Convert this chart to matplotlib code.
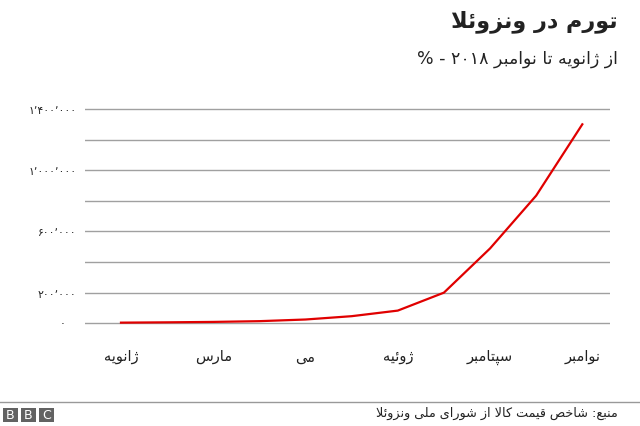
import re
import matplotlib
matplotlib.use("Agg")
import matplotlib.pyplot as plt
from matplotlib.patches import Rectangle
from matplotlib.transforms import blended_transform_factory

# ---------------- data ----------------
months = ["ژانویه", "فوریه", "مارس", "آوریل", "می", "ژوئن", "ژوئیه", "اوت", "سپتامبر", "اکتبر", "نوامبر"]
inflation = [4068, 6147, 8878, 13779, 24571, 46305, 82766, 200005, 488865, 833997, 1299724]
xtick_idx = [0, 2, 4, 6, 8, 10]
ytick_major = [0, 200000, 600000, 1000000, 1400000]
ytick_labels = ["۰", "۲۰۰٬۰۰۰", "۶۰۰٬۰۰۰", "۱٬۰۰۰٬۰۰۰", "۱٬۴۰۰٬۰۰۰"]
ytick_minor = [400000, 800000, 1200000]
title = "تورم در ونزوئلا"
subtitle = "از ژانویه تا نوامبر ۲۰۱۸ - %"
source = "منبع: شاخص قیمت کالا از شورای ملی ونزوئلا"

# ------------- minimal Persian shaping + RTL ordering -------------
FORMS = {  # isolated, final, initial, medial
    'ا': (0xFE8D, 0xFE8E, None, None), 'آ': (0xFE81, 0xFE82, None, None),
    'أ': (0xFE83, 0xFE84, None, None), 'ئ': (0xFE89, 0xFE8A, 0xFE8B, 0xFE8C),
    'ب': (0xFE8F, 0xFE90, 0xFE91, 0xFE92), 'پ': (0xFB56, 0xFB57, 0xFB58, 0xFB59),
    'ت': (0xFE95, 0xFE96, 0xFE97, 0xFE98), 'ث': (0xFE99, 0xFE9A, 0xFE9B, 0xFE9C),
    'ج': (0xFE9D, 0xFE9E, 0xFE9F, 0xFEA0), 'چ': (0xFB7A, 0xFB7B, 0xFB7C, 0xFB7D),
    'ح': (0xFEA1, 0xFEA2, 0xFEA3, 0xFEA4), 'خ': (0xFEA5, 0xFEA6, 0xFEA7, 0xFEA8),
    'د': (0xFEA9, 0xFEAA, None, None), 'ذ': (0xFEAB, 0xFEAC, None, None),
    'ر': (0xFEAD, 0xFEAE, None, None), 'ز': (0xFEAF, 0xFEB0, None, None),
    'ژ': (0xFB8A, 0xFB8B, None, None), 'س': (0xFEB1, 0xFEB2, 0xFEB3, 0xFEB4),
    'ش': (0xFEB5, 0xFEB6, 0xFEB7, 0xFEB8), 'ص': (0xFEB9, 0xFEBA, 0xFEBB, 0xFEBC),
    'ض': (0xFEBD, 0xFEBE, 0xFEBF, 0xFEC0), 'ط': (0xFEC1, 0xFEC2, 0xFEC3, 0xFEC4),
    'ظ': (0xFEC5, 0xFEC6, 0xFEC7, 0xFEC8), 'ع': (0xFEC9, 0xFECA, 0xFECB, 0xFECC),
    'غ': (0xFECD, 0xFECE, 0xFECF, 0xFED0), 'ف': (0xFED1, 0xFED2, 0xFED3, 0xFED4),
    'ق': (0xFED5, 0xFED6, 0xFED7, 0xFED8), 'ک': (0xFB8E, 0xFB8F, 0xFB90, 0xFB91),
    'گ': (0xFB92, 0xFB93, 0xFB94, 0xFB95), 'ل': (0xFEDD, 0xFEDE, 0xFEDF, 0xFEE0),
    'م': (0xFEE1, 0xFEE2, 0xFEE3, 0xFEE4), 'ن': (0xFEE5, 0xFEE6, 0xFEE7, 0xFEE8),
    'ه': (0xFEE9, 0xFEEA, 0xFEEB, 0xFEEC), 'و': (0xFEED, 0xFEEE, None, None),
    'ی': (0xFBFC, 0xFBFD, 0xFBFE, 0xFBFF),
}


def _dual(c):
    return c in FORMS and FORMS[c][2] is not None


def shape(s):
    out, i, n = [], 0, len(s)
    while i < n:
        c = s[i]
        if c in FORMS:
            prev = s[i - 1] if i > 0 else None
            pj = prev is not None and _dual(prev)
            if c == 'ل' and i + 1 < n and s[i + 1] == 'ا':
                out.append(chr(0xFEFC if pj else 0xFEFB))
                i += 2
                continue
            nxt = s[i + 1] if i + 1 < n else None
            nj = _dual(c) and nxt is not None and nxt in FORMS
            iso, fin, ini, med = FORMS[c]
            g = med if (pj and nj) else fin if pj else ini if nj else iso
            out.append(chr(g))
        else:
            out.append(c)
        i += 1
    return ''.join(out)


def fa(s):
    rev = shape(s)[::-1]
    return re.sub(r'[0-9\u06F0-\u06F9\u0660-\u0669\u066C]+', lambda m: m.group(0)[::-1], rev)


# ---------------- figure ----------------
plt.rcParams['font.family'] = ['DejaVu Sans']
W, H = 640, 427
fig = plt.figure(figsize=(6.4, 4.27), dpi=100)


def fx(px):
    return px / W


def fy(py):
    return 1 - py / H


ax = fig.add_axes([fx(85), fy(325.8), fx(610) - fx(85), fy(106.9) - fy(325.8)])
x = list(range(len(months)))
ax.plot(x, inflation, color='#e00000', lw=1.6, solid_joinstyle='miter', zorder=3)
ax.set_xlim(-0.78, 10.6)
ax.set_ylim(-10000, 1420000)

ax.set_yticks(ytick_major)
ax.set_yticklabels([""] + ytick_labels[1:])
ax.set_yticks(ytick_minor, minor=True)
ax.grid(True, axis='y', which='both', color='#a0a0a0', lw=1)
ax.set_xticks([x[i] for i in xtick_idx])
ax.set_xticklabels([fa(months[i]) for i in xtick_idx])
ax.tick_params(axis='y', which='both', length=0, pad=6, labelsize=7.8, labelcolor='#222222')
ax.tick_params(axis='x', length=0, pad=17, labelsize=10.5, labelcolor='#222222')
for s in ax.spines.values():
    s.set_visible(False)
ax.set_axisbelow(True)
# zero label sits a little further left in the reference
ax.text(-22 / 525, ytick_major[0], ytick_labels[0], ha='center', va='center',
        fontsize=7.8, color='#222222',
        transform=blended_transform_factory(ax.transAxes, ax.transData))

# titles
fig.text(fx(618), fy(22), fa(title), ha='right', va='center', fontsize=16,
         fontweight='bold', color='#222222')
fig.text(fx(618), fy(59), fa(subtitle), ha='right', va='center', fontsize=12.5,
         color='#222222')

# footer
fig.add_artist(plt.Line2D([0, 1], [fy(403), fy(403)], color='#999999', lw=1,
                          transform=fig.transFigure))
fig.text(fx(618), fy(413), fa(source), ha='right', va='center', fontsize=9.2,
         color='#222222')
for k, letter in enumerate("BBC"):
    x0 = 3 + k * 18
    fig.add_artist(Rectangle((fx(x0), fy(423)), fx(15), fy(409) - fy(423),
                             transform=fig.transFigure, color='#626262', lw=0))
    fig.text(fx(x0 + 7.5), fy(416), letter, ha='center', va='center', fontsize=9,
             color='white')

fig.savefig('out.png', dpi=100)
